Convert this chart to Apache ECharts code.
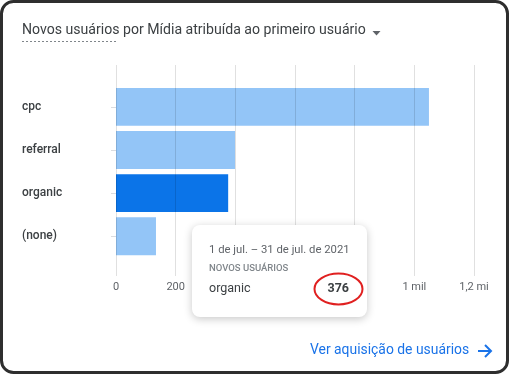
<!DOCTYPE html>
<html><head><meta charset="utf-8">
<script src="https://cdn.jsdelivr.net/npm/echarts@6/dist/echarts.min.js"></script>
<style>html,body{margin:0;padding:0;background:#fff}#c{width:509px;height:374px}</style>
</head><body><div id="c"></div>
<script>
const categories = ['cpc', 'referral', 'organic', '(none)'];
const newUsers = [1049, 399, 376, 134];
const highlightIndex = 2;
const tickLabels = ['0', '200', '400', '600', '800', '1 mil', '1,2 mi'];
const titleText = 'Novos usuários por Mídia atribuída ao primeiro usuário';
const tooltipDate = '1 de jul. – 31 de jul. de 2021';
const tooltipMetric = 'NOVOS USUÁRIOS';
const linkText = 'Ver aquisição de usuários';

const font = 'Roboto, "Noto Sans", sans-serif';
const chart = echarts.init(document.getElementById('c'), null, {renderer: 'canvas'});

const xTickFmt = v => tickLabels[Math.round(v / 200)] ?? '';

chart.setOption({
  animation: false,
  grid: [
    {left: 116, right: 35, top: 65, bottom: 98},
    {left: 116, right: 35, top: 85.3, height: 172.5}
  ],
  xAxis: [
    {gridIndex: 0, type: 'value', min: 0, max: 1200, interval: 200, z: 5,
     axisLine: {show: false}, axisTick: {show: false},
     splitLine: {lineStyle: {color: 'rgba(0,0,0,0.12)', width: 1}},
     axisLabel: {formatter: xTickFmt, color: '#5f6368', fontSize: 11, fontFamily: font, margin: 6}},
    {gridIndex: 1, type: 'value', min: 0, max: 1200, show: false}
  ],
  yAxis: [
    {gridIndex: 0, type: 'value', show: false},
    {gridIndex: 1, type: 'category', data: categories, inverse: true,
     axisLine: {show: false},
     axisTick: {show: true, alignWithLabel: true, length: 5, lineStyle: {color: '#dadce0'}},
     axisLabel: {align: 'left', margin: 94, padding: [5, 0, 0, 0], color: '#3c4043', fontSize: 12, fontWeight: 500, fontFamily: font}}
  ],
  series: [{
    type: 'bar', xAxisIndex: 1, yAxisIndex: 1, z: 2,
    barCategoryGap: '12%',
    data: newUsers.map((v, i) => ({value: v, itemStyle: {color: i === highlightIndex ? '#0b74e8' : '#93c5f7'}}))
  }],
  graphic: [
    {type: 'rect', z: 100, shape: {x: 1.5, y: 1.5, width: 506, height: 371, r: 12},
     style: {fill: 'none', stroke: '#2e2e2e', lineWidth: 3}},
    {type: 'text', z: 10, left: 22, top: 23,
     style: {text: titleText, fill: '#3c4043', font: '14.1px ' + font}},
    {type: 'line', z: 10, shape: {x1: 22, y1: 41.5, x2: 118, y2: 41.5},
     style: {stroke: '#80868b', lineWidth: 1, lineDash: [2, 2]}},
    {type: 'polygon', z: 10, shape: {points: [[372.5, 31], [380.5, 31], [376.5, 35.5]]},
     style: {fill: '#5f6368'}},
    {type: 'rect', z: 20, shape: {x: 192, y: 225, width: 175, height: 92, r: 8},
     style: {fill: '#fff', shadowBlur: 8, shadowColor: 'rgba(0,0,0,0.22)', shadowOffsetY: 2}},
    {type: 'text', z: 21, x: 209, y: 250,
     style: {text: tooltipDate, fill: '#5f6368', font: '11.3px ' + font, verticalAlign: 'middle'}},
    {type: 'text', z: 21, x: 209, y: 269,
     style: {text: tooltipMetric, fill: '#80868b', font: '500 9.5px ' + font, verticalAlign: 'middle'}},
    {type: 'text', z: 21, x: 209, y: 289,
     style: {text: categories[highlightIndex], fill: '#3c4043', font: '12.5px ' + font, verticalAlign: 'middle'}},
    {type: 'text', z: 21, x: 349, y: 289,
     style: {text: String(newUsers[highlightIndex]), fill: '#3c4043', font: 'bold 12.5px ' + font, align: 'right', verticalAlign: 'middle'}},
    {type: 'ellipse', z: 22, shape: {cx: 338.5, cy: 289, rx: 24, ry: 15.5},
     style: {fill: 'none', stroke: '#e02020', lineWidth: 2}},
    {type: 'text', z: 10, x: 310, y: 351,
     style: {text: linkText, fill: '#1a73e8', font: '13.9px ' + font, verticalAlign: 'middle'}},
    {type: 'polyline', z: 10, shape: {points: [[478, 351], [491, 351]]},
     style: {stroke: '#1a73e8', lineWidth: 2}},
    {type: 'polyline', z: 10, shape: {points: [[485, 345], [491, 351], [485, 357]]},
     style: {stroke: '#1a73e8', lineWidth: 2, fill: 'none'}}
  ]
});
</script></body></html>
